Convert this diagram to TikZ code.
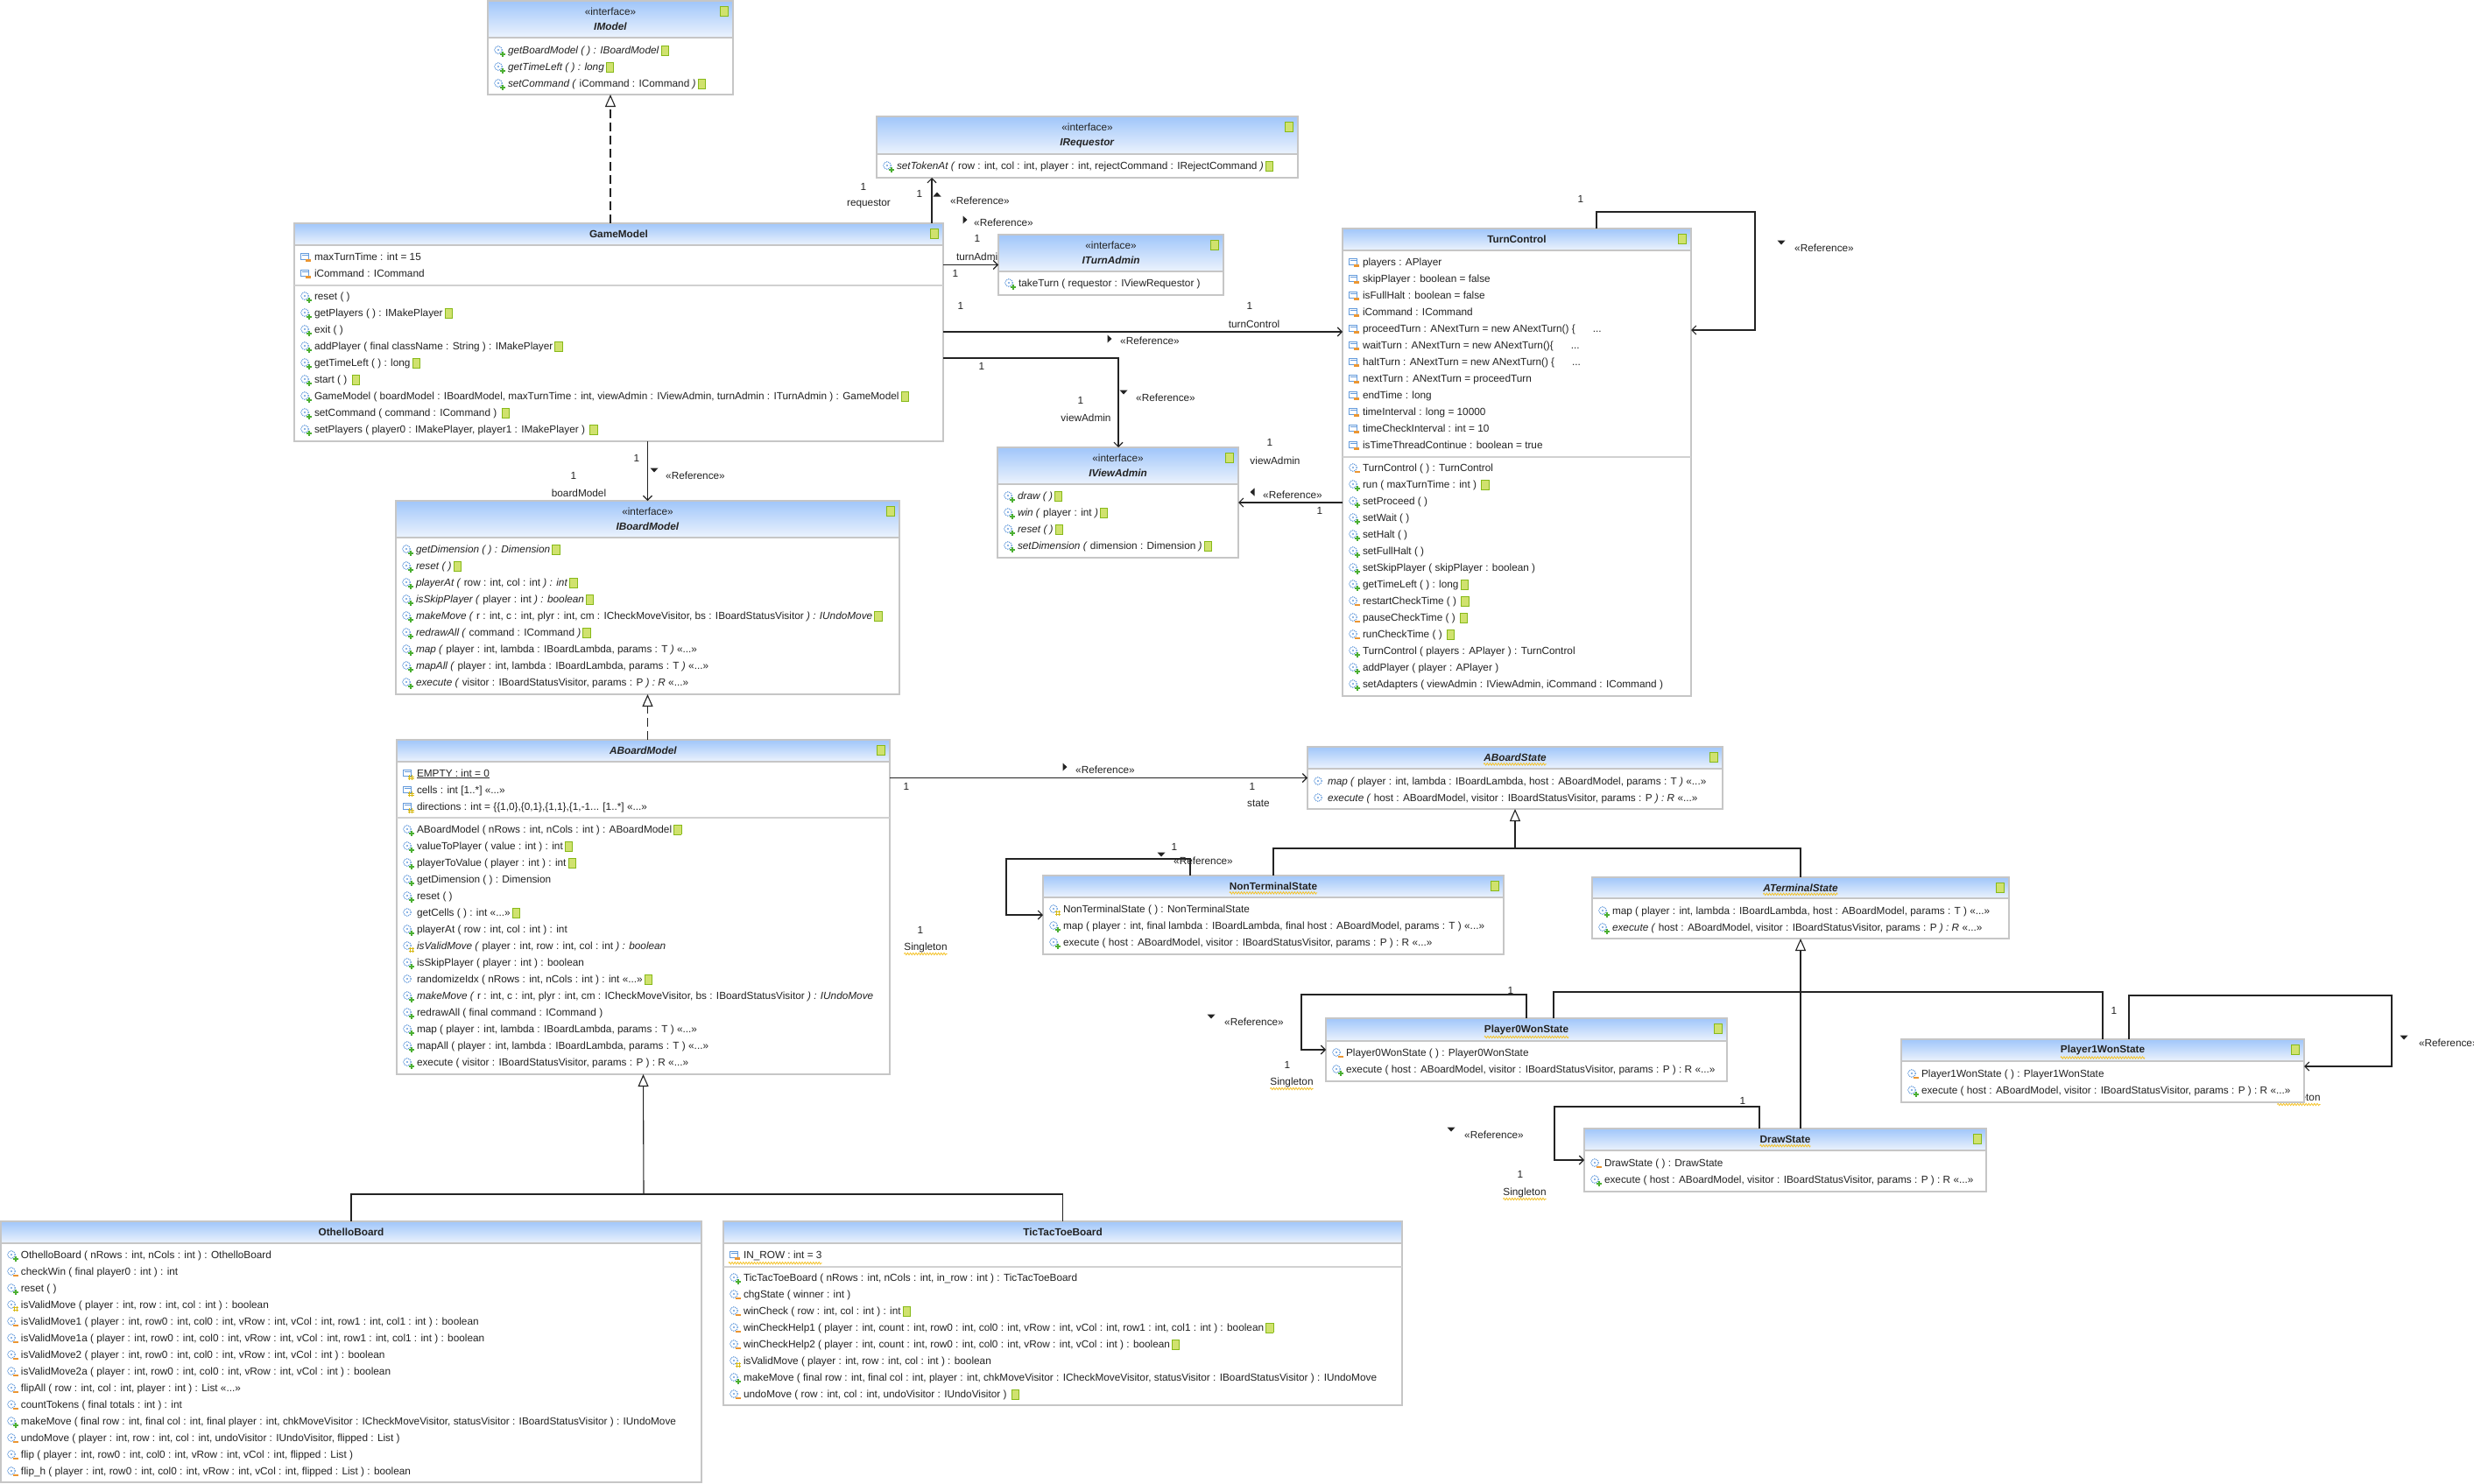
\documentclass[tikz,border=0pt]{standalone}
\usepackage{fontspec}
\setmainfont{Liberation Sans}
\usetikzlibrary{arrows.meta,decorations.pathmorphing,positioning}

\definecolor{hdtop}{RGB}{160,198,250}
\definecolor{hdbot}{RGB}{236,243,253}
\definecolor{frame}{RGB}{198,198,198}
\definecolor{opblue}{RGB}{100,155,220}
\definecolor{pubgreen}{RGB}{75,175,50}
\definecolor{privorange}{RGB}{235,150,50}
\definecolor{protyellow}{RGB}{215,185,20}
\definecolor{docfill}{RGB}{208,226,110}
\definecolor{docedge}{RGB}{135,185,25}
\definecolor{squig}{RGB}{245,195,40}
\definecolor{ink}{RGB}{35,35,35}

% icons in front of the members
\newcommand\icbox{\useasboundingbox (-6pt,-8pt) rectangle (10pt,5pt);}
\newcommand\gear{\draw[opblue,densely dotted,line width=1.1pt] (0,0) circle (4.3pt);\fill[opblue] (0,0) circle (1.2pt);}
\newcommand\opub{\tikz[baseline=-4pt]{\icbox\gear\draw[pubgreen,line width=1.6pt] (4.8pt,-1.8pt) -- (4.8pt,-7.8pt) (1.8pt,-4.8pt) -- (7.8pt,-4.8pt);}\kern1pt}
\newcommand\opriv{\tikz[baseline=-4pt]{\icbox\gear\fill[privorange] (1.5pt,-3.6pt) rectangle (8pt,-6.2pt);}\kern1pt}
\newcommand\oprot{\tikz[baseline=-4pt]{\icbox\gear\draw[protyellow,line width=.8pt] (3.3pt,-1.8pt) -- (3.3pt,-7.8pt) (6.1pt,-1.8pt) -- (6.1pt,-7.8pt) (1.5pt,-3.8pt) -- (8pt,-3.8pt) (1.5pt,-5.9pt) -- (8pt,-5.9pt);}\kern1pt}
\newcommand\opkg{\tikz[baseline=-4pt]{\icbox\gear}\kern1pt}
\newcommand\fpriv{\tikz[baseline=-4pt]{\icbox\draw[opblue,line width=.9pt] (-5pt,4pt) rectangle (4pt,-3.5pt) (-3pt,1.5pt) -- (4pt,1.5pt);\fill[privorange] (0.5pt,-3pt) rectangle (7pt,-6pt);}\kern1pt}
\newcommand\fprot{\tikz[baseline=-4pt]{\icbox\draw[opblue,line width=.9pt] (-5pt,4pt) rectangle (4pt,-3.5pt) (-3pt,1.5pt) -- (4pt,1.5pt);\draw[protyellow,line width=.8pt] (2.5pt,-2pt) -- (2.5pt,-8pt) (5.3pt,-2pt) -- (5.3pt,-8pt) (0.5pt,-4pt) -- (7.5pt,-4pt) (0.5pt,-6.2pt) -- (7.5pt,-6.2pt);}\kern1pt}
\newcommand\docbox{{\setlength\fboxsep{0pt}\setlength\fboxrule{0.9pt}\fcolorbox{docedge}{docfill}{\rule[-1.5pt]{0pt}{10pt}\hspace{7.5pt}}}}
\newcommand\docic{\kern2pt\docbox}

\tikzset{pics/tri/.style={code={\fill[ink] (-2.5pt,4.5pt) -- (2.5pt,0pt) -- (-2.5pt,-4.5pt) -- cycle;}}}

\begin{document}
\begin{tikzpicture}[x=1pt,y=-1pt]
    \tikzstyle{every node}=[inner sep=0pt, outer sep=0pt, text=ink, font=\fontsize{11.8}{19}\selectfont]
    \tikzstyle{box}=[draw=frame, line width=2.4pt, fill=white, anchor=north west]
    \tikzstyle{head}=[box, top color=hdtop, bottom color=hdbot, align=center]
    \tikzstyle{rows}=[anchor=north west]
    \tikzstyle{sepl}=[frame!80, line width=1.3pt]
    \tikzstyle{conn}=[ink, line width=1.1pt]
    \tikzstyle{assoc}=[conn, -{Straight Barb[length=5pt,width=10pt]}]
    \tikzstyle{gen}=[conn, -{Triangle[open,length=14pt,width=12pt,fill=white]}]
    \tikzstyle{real}=[gen, dash pattern=on 10pt off 5pt]
    \tikzstyle{squiggle}=[squig, line width=.8pt, decorate, decoration={zigzag, amplitude=1.2pt, segment length=3.2pt}]

    \fill[white] (0,0) rectangle (2825,1695);
    \useasboundingbox (0,0) rectangle (2825,1695);

    % labels partly hidden behind the boxes
    \node[anchor=west] (ta-r) at (1092,293) {turnAdmin};
    \node (p1-s) at (2625,1254) {Singleton};
    \draw[squiggle] ([yshift=-2pt]p1-s.south west) -- ([yshift=-2pt]p1-s.south east);

    % IModel
    \node[box, minimum width=280, minimum height=107] (im) at (557,1) {};
    \node[head, minimum width=280, minimum height=42] (im-h) at (557,1) {«interface»\\[-2pt]\textbf{\textit{IModel}}};
    \node (im-d) at ([xshift=-10pt,yshift=-12pt]im.north east) {\docbox};
    \node[rows] (im-m) at (563,47.7) {\begin{tabular}{@{}l@{}}
        \opub\textit{getBoardModel ( ) : IBoardModel}\docic\\
        \opub\textit{getTimeLeft ( ) : long}\docic\\
        \opub\textit{setCommand (} iCommand : ICommand \textit{)}\docic
    \end{tabular}};

    % IRequestor
    \node[box, minimum width=481, minimum height=70] (rq) at (1001,133) {};
    \node[head, minimum width=481, minimum height=43] (rq-h) at (1001,133) {«interface»\\[-2pt]\textbf{\textit{IRequestor}}};
    \node (rq-d) at ([xshift=-10pt,yshift=-12pt]rq.north east) {\docbox};
    \node[rows] (rq-m) at (1007,179.7) {\begin{tabular}{@{}l@{}}
        \opub\textit{setTokenAt (} row : int, col : int, player : int, rejectCommand : IRejectCommand \textit{)}\docic
    \end{tabular}};

    % GameModel
    \node[box, minimum width=741, minimum height=249] (gm) at (336,255) {};
    \node[head, minimum width=741, minimum height=25] (gm-h) at (336,255) {\textbf{GameModel}};
    \node (gm-d) at ([xshift=-10pt,yshift=-12pt]gm.north east) {\docbox};
    \draw[sepl] (gm.west |- 0,326) -- (gm.east |- 0,326);
    \node[rows] (gm-a) at (342,283.7) {\begin{tabular}{@{}l@{}}
        \fpriv maxTurnTime : int = 15\\
        \fpriv iCommand : ICommand
    \end{tabular}};
    \node[rows] (gm-m) at (342,328.7) {\begin{tabular}{@{}l@{}}
        \opub reset ( )\\
        \opub getPlayers ( ) :  IMakePlayer\docic\\
        \opub exit ( )\\
        \opub addPlayer ( final className : String ) :  IMakePlayer\docic\\
        \opub getTimeLeft ( ) :  long\docic\\
        \opub start ( ) \docic\\
        \opub GameModel ( boardModel : IBoardModel, maxTurnTime : int, viewAdmin : IViewAdmin, turnAdmin : ITurnAdmin ) :  GameModel\docic\\
        \opub setCommand ( command : ICommand ) \docic\\
        \opub setPlayers ( player0 : IMakePlayer, player1 : IMakePlayer ) \docic
    \end{tabular}};

    % ITurnAdmin
    \node[box, minimum width=257, minimum height=69] (ta) at (1140,268) {};
    \node[head, minimum width=257, minimum height=42] (ta-h) at (1140,268) {«interface»\\[-2pt]\textbf{\textit{ITurnAdmin}}};
    \node (ta-d) at ([xshift=-10pt,yshift=-12pt]ta.north east) {\docbox};
    \node[rows] (ta-m) at (1146,313.7) {\begin{tabular}{@{}l@{}}
        \opub takeTurn ( requestor : IViewRequestor )
    \end{tabular}};

    % IViewAdmin
    \node[box, minimum width=275, minimum height=126] (va) at (1139,511) {};
    \node[head, minimum width=275, minimum height=42] (va-h) at (1139,511) {«interface»\\[-2pt]\textbf{\textit{IViewAdmin}}};
    \node (va-d) at ([xshift=-10pt,yshift=-12pt]va.north east) {\docbox};
    \node[rows] (va-m) at (1145,556.7) {\begin{tabular}{@{}l@{}}
        \opub\textit{draw ( )}\docic\\
        \opub\textit{win (} player : int \textit{)}\docic\\
        \opub\textit{reset ( )}\docic\\
        \opub\textit{setDimension (} dimension : Dimension \textit{)}\docic
    \end{tabular}};

    % TurnControl
    \node[box, minimum width=398, minimum height=534] (tc) at (1533,261) {};
    \node[head, minimum width=398, minimum height=25] (tc-h) at (1533,261) {\textbf{TurnControl}};
    \node (tc-d) at ([xshift=-10pt,yshift=-12pt]tc.north east) {\docbox};
    \draw[sepl] (tc.west |- 0,522) -- (tc.east |- 0,522);
    \node[rows] (tc-a) at (1539,289.7) {\begin{tabular}{@{}l@{}}
        \fpriv players : APlayer\\
        \fpriv skipPlayer : boolean = false\\
        \fpriv isFullHalt : boolean = false\\
        \fpriv iCommand : ICommand\\
        \fpriv proceedTurn : ANextTurn = new ANextTurn() \{\hspace{20pt}...\\
        \fpriv waitTurn : ANextTurn = new ANextTurn()\{\hspace{20pt}...\\
        \fpriv haltTurn : ANextTurn = new ANextTurn() \{\hspace{20pt}...\\
        \fpriv nextTurn : ANextTurn = proceedTurn\\
        \fpriv endTime : long\\
        \fpriv timeInterval : long = 10000\\
        \fpriv timeCheckInterval : int = 10\\
        \fpriv isTimeThreadContinue : boolean = true
    \end{tabular}};
    \node[rows] (tc-m) at (1539,524.7) {\begin{tabular}{@{}l@{}}
        \opriv TurnControl ( ) :  TurnControl\\
        \opub run ( maxTurnTime : int ) \docic\\
        \opub setProceed ( )\\
        \opub setWait ( )\\
        \opub setHalt ( )\\
        \opub setFullHalt ( )\\
        \opub setSkipPlayer ( skipPlayer : boolean )\\
        \opub getTimeLeft ( ) :  long\docic\\
        \opriv restartCheckTime ( ) \docic\\
        \opriv pauseCheckTime ( ) \docic\\
        \opriv runCheckTime ( ) \docic\\
        \opub TurnControl ( players : APlayer ) :  TurnControl\\
        \opub addPlayer ( player : APlayer )\\
        \opub setAdapters ( viewAdmin : IViewAdmin, iCommand : ICommand )
    \end{tabular}};

    % IBoardModel
    \node[box, minimum width=575, minimum height=221] (ib) at (452,572) {};
    \node[head, minimum width=575, minimum height=42] (ib-h) at (452,572) {«interface»\\[-2pt]\textbf{\textit{IBoardModel}}};
    \node (ib-d) at ([xshift=-10pt,yshift=-12pt]ib.north east) {\docbox};
    \node[rows] (ib-m) at (458,617.7) {\begin{tabular}{@{}l@{}}
        \opub\textit{getDimension ( ) : Dimension}\docic\\
        \opub\textit{reset ( )}\docic\\
        \opub\textit{playerAt (} row : int, col : int \textit{) : int}\docic\\
        \opub\textit{isSkipPlayer (} player : int \textit{) : boolean}\docic\\
        \opub\textit{makeMove (} r : int, c : int, plyr : int, cm : ICheckMoveVisitor, bs : IBoardStatusVisitor \textit{) : IUndoMove}\docic\\
        \opub\textit{redrawAll (} command : ICommand \textit{)}\docic\\
        \opub\textit{map (} player : int, lambda : IBoardLambda, params : T \textit{)} «...»\\
        \opub\textit{mapAll (} player : int, lambda : IBoardLambda, params : T \textit{)} «...»\\
        \opub\textit{execute (} visitor : IBoardStatusVisitor, params : P \textit{) : R} «...»
    \end{tabular}};

    % ABoardModel
    \node[box, minimum width=563, minimum height=382] (ab) at (453,845) {};
    \node[head, minimum width=563, minimum height=25] (ab-h) at (453,845) {\textbf{\textit{ABoardModel}}};
    \node (ab-d) at ([xshift=-10pt,yshift=-12pt]ab.north east) {\docbox};
    \draw[sepl] (ab.west |- 0,934) -- (ab.east |- 0,934);
    \node[rows] (ab-a) at (459,873.7) {\begin{tabular}{@{}l@{}}
        \fprot\underline{EMPTY : int = 0}\\
        \fprot cells : int [1..*] «...»\\
        \fprot directions : int = \{\{1,0\},\{0,1\},\{1,1\},\{1,-1... [1..*] «...»
    \end{tabular}};
    \node[rows] (ab-m) at (459,937.7) {\begin{tabular}{@{}l@{}}
        \opub ABoardModel ( nRows : int, nCols : int ) :  ABoardModel\docic\\
        \opub valueToPlayer ( value : int ) :  int\docic\\
        \opub playerToValue ( player : int ) :  int\docic\\
        \opub getDimension ( ) :  Dimension\\
        \opub reset ( )\\
        \opkg getCells ( ) :  int «...»\docic\\
        \opub playerAt ( row : int, col : int ) :  int\\
        \oprot\textit{isValidMove (} player : int, row : int, col : int \textit{) : boolean}\\
        \opub isSkipPlayer ( player : int ) :  boolean\\
        \opkg randomizeIdx ( nRows : int, nCols : int ) :  int «...»\docic\\
        \opub\textit{makeMove (} r : int, c : int, plyr : int, cm : ICheckMoveVisitor, bs : IBoardStatusVisitor \textit{) : IUndoMove}\\
        \opub redrawAll ( final command : ICommand )\\
        \opub map ( player : int, lambda : IBoardLambda, params : T )  «...»\\
        \opub mapAll ( player : int, lambda : IBoardLambda, params : T )  «...»\\
        \opub execute ( visitor : IBoardStatusVisitor, params : P ) :  R «...»
    \end{tabular}};

    % ABoardState
    \node[box, minimum width=474, minimum height=71] (as) at (1493,853) {};
    \node[head, minimum width=474, minimum height=25] (as-h) at (1493,853) {};
    \node (as-t) at (as-h) {\textbf{\textit{ABoardState}}};
    \draw[squiggle] ([yshift=-3pt]as-t.south west) -- ([yshift=-3pt]as-t.south east);
    \node (as-d) at ([xshift=-10pt,yshift=-12pt]as.north east) {\docbox};
    \node[rows] (as-m) at (1499,882.7) {\begin{tabular}{@{}l@{}}
        \opkg\textit{map (} player : int, lambda : IBoardLambda, host : ABoardModel, params : T \textit{)} «...»\\
        \opkg\textit{execute (} host : ABoardModel, visitor : IBoardStatusVisitor, params : P \textit{) : R} «...»
    \end{tabular}};

    % NonTerminalState
    \node[box, minimum width=526, minimum height=90] (nt) at (1191,1000) {};
    \node[head, minimum width=526, minimum height=25] (nt-h) at (1191,1000) {};
    \node (nt-t) at (nt-h) {\textbf{NonTerminalState}};
    \draw[squiggle] ([yshift=-3pt]nt-t.south west) -- ([yshift=-3pt]nt-t.south east);
    \node (nt-d) at ([xshift=-10pt,yshift=-12pt]nt.north east) {\docbox};
    \node[rows] (nt-m) at (1197,1028.7) {\begin{tabular}{@{}l@{}}
        \oprot NonTerminalState ( ) :  NonTerminalState\\
        \opub map ( player : int, final lambda : IBoardLambda, final host : ABoardModel, params : T ) «...»\\
        \opub execute ( host : ABoardModel, visitor : IBoardStatusVisitor, params : P ) :  R «...»
    \end{tabular}};

    % ATerminalState
    \node[box, minimum width=476, minimum height=70] (at) at (1818,1002) {};
    \node[head, minimum width=476, minimum height=24] (at-h) at (1818,1002) {};
    \node (at-t) at (at-h) {\textbf{\textit{ATerminalState}}};
    \draw[squiggle] ([yshift=-3pt]at-t.south west) -- ([yshift=-3pt]at-t.south east);
    \node (at-d) at ([xshift=-10pt,yshift=-12pt]at.north east) {\docbox};
    \node[rows] (at-m) at (1824,1030.7) {\begin{tabular}{@{}l@{}}
        \opub map ( player : int, lambda : IBoardLambda, host : ABoardModel, params : T ) «...»\\
        \opub\textit{execute (} host : ABoardModel, visitor : IBoardStatusVisitor, params : P \textit{) : R} «...»
    \end{tabular}};

    % Player0WonState
    \node[box, minimum width=458, minimum height=72] (p0) at (1514,1163) {};
    \node[head, minimum width=458, minimum height=26] (p0-h) at (1514,1163) {};
    \node (p0-t) at (p0-h) {\textbf{Player0WonState}};
    \draw[squiggle] ([yshift=-3pt]p0-t.south west) -- ([yshift=-3pt]p0-t.south east);
    \node (p0-d) at ([xshift=-10pt,yshift=-12pt]p0.north east) {\docbox};
    \node[rows] (p0-m) at (1520,1192.7) {\begin{tabular}{@{}l@{}}
        \opriv Player0WonState ( ) :  Player0WonState\\
        \opub execute ( host : ABoardModel, visitor : IBoardStatusVisitor, params : P ) :  R «...»
    \end{tabular}};

    % Player1WonState
    \node[box, minimum width=460, minimum height=72] (p1) at (2171,1187) {};
    \node[head, minimum width=460, minimum height=25] (p1-h) at (2171,1187) {};
    \node (p1-t) at (p1-h) {\textbf{Player1WonState}};
    \draw[squiggle] ([yshift=-3pt]p1-t.south west) -- ([yshift=-3pt]p1-t.south east);
    \node (p1-d) at ([xshift=-10pt,yshift=-12pt]p1.north east) {\docbox};
    \node[rows] (p1-m) at (2177,1216.7) {\begin{tabular}{@{}l@{}}
        \opriv Player1WonState ( ) :  Player1WonState\\
        \opub execute ( host : ABoardModel, visitor : IBoardStatusVisitor, params : P ) :  R «...»
    \end{tabular}};

    % DrawState
    \node[box, minimum width=459, minimum height=72] (dr) at (1809,1289) {};
    \node[head, minimum width=459, minimum height=25] (dr-h) at (1809,1289) {};
    \node (dr-t) at (dr-h) {\textbf{DrawState}};
    \draw[squiggle] ([yshift=-3pt]dr-t.south west) -- ([yshift=-3pt]dr-t.south east);
    \node (dr-d) at ([xshift=-10pt,yshift=-12pt]dr.north east) {\docbox};
    \node[rows] (dr-m) at (1815,1318.7) {\begin{tabular}{@{}l@{}}
        \opriv DrawState ( ) :  DrawState\\
        \opub execute ( host : ABoardModel, visitor : IBoardStatusVisitor, params : P ) :  R «...»
    \end{tabular}};

    % OthelloBoard
    \node[box, minimum width=800, minimum height=298] (ob) at (1,1395) {};
    \node[head, minimum width=800, minimum height=25] (ob-h) at (1,1395) {\textbf{OthelloBoard}};
    \node[rows] (ob-m) at (7,1423.7) {\begin{tabular}{@{}l@{}}
        \opub OthelloBoard ( nRows : int, nCols : int ) :  OthelloBoard\\
        \opriv checkWin ( final player0 : int ) :  int\\
        \opub reset ( )\\
        \oprot isValidMove ( player : int, row : int, col : int ) :  boolean\\
        \opriv isValidMove1 ( player : int, row0 : int, col0 : int, vRow : int, vCol : int, row1 : int, col1 : int ) :  boolean\\
        \opriv isValidMove1a ( player : int, row0 : int, col0 : int, vRow : int, vCol : int, row1 : int, col1 : int ) :  boolean\\
        \opriv isValidMove2 ( player : int, row0 : int, col0 : int, vRow : int, vCol : int ) :  boolean\\
        \opriv isValidMove2a ( player : int, row0 : int, col0 : int, vRow : int, vCol : int ) :  boolean\\
        \opriv flipAll ( row : int, col : int, player : int ) :  List «...»\\
        \opriv countTokens ( final totals : int ) :  int\\
        \opub makeMove ( final row : int, final col : int, final player : int, chkMoveVisitor : ICheckMoveVisitor, statusVisitor : IBoardStatusVisitor ) :  IUndoMove\\
        \opriv undoMove ( player : int, row : int, col : int, undoVisitor : IUndoVisitor, flipped : List )\\
        \opriv flip ( player : int, row0 : int, col0 : int, vRow : int, vCol : int, flipped : List )\\
        \opriv flip\_h ( player : int, row0 : int, col0 : int, vRow : int, vCol : int, flipped : List ) :  boolean
    \end{tabular}};

    % TicTacToeBoard
    \node[box, minimum width=775, minimum height=210] (tt) at (826,1395) {};
    \node[head, minimum width=775, minimum height=25] (tt-h) at (826,1395) {\textbf{TicTacToeBoard}};
    \draw[sepl] (tt.west |- 0,1447) -- (tt.east |- 0,1447);
    \node[rows] (tt-a) at (832,1423.7) {\begin{tabular}{@{}l@{}}
        \fpriv IN\_ROW : int = 3
    \end{tabular}};
    \draw[squiggle] (tt-a.south west) -- (tt-a.south east);
    \node[rows] (tt-m) at (832,1449.7) {\begin{tabular}{@{}l@{}}
        \opub TicTacToeBoard ( nRows : int, nCols : int, in\_row : int ) :  TicTacToeBoard\\
        \opriv chgState ( winner : int )\\
        \opriv winCheck ( row : int, col : int ) :  int\docic\\
        \opriv winCheckHelp1 ( player : int, count : int, row0 : int, col0 : int, vRow : int, vCol : int, row1 : int, col1 : int ) :  boolean\docic\\
        \opriv winCheckHelp2 ( player : int, count : int, row0 : int, col0 : int, vRow : int, vCol : int ) :  boolean\docic\\
        \oprot isValidMove ( player : int, row : int, col : int ) :  boolean\\
        \opub makeMove ( final row : int, final col : int, player : int, chkMoveVisitor : ICheckMoveVisitor, statusVisitor : IBoardStatusVisitor ) : IUndoMove\\
        \opriv undoMove ( row : int, col : int, undoVisitor : IUndoVisitor ) \docic
    \end{tabular}};

    % connectors
    \draw[real] (gm.north -| im.south) -- (im.south);
    \draw[assoc] ([xshift=-13pt]gm.north east) -- ([xshift=-177.5pt]rq.south);
    \draw[assoc] (gm.east |- ta.west) -- (ta.west);
    \draw[assoc] ([yshift=-124pt]gm.north east) -- ([yshift=-118pt]tc.north west);
    \draw[assoc] ([yshift=-154pt]gm.north east) -| ([xshift=138pt]va.north west);
    \draw[assoc] ([yshift=-313pt]tc.north west) -- ([yshift=-63pt]va.north east);
    \draw[assoc] ([xshift=290pt]tc.north west) -- ++(0,19pt) -| ([xshift=73pt,yshift=-116pt]tc.north east) -- ([yshift=-116pt]tc.north east);
    \draw[assoc] (gm.south -| ib.north) -- (ib.north);
    \draw[real] (ab.north -| ib.south) -- (ib.south);
    \draw[assoc] (ab.east |- as.west) -- (as.west);

    \coordinate (sbar) at (1730,969);
    \draw[gen] (sbar) -- (as.south);
    \draw[conn] (nt.north) |- (sbar) -| (at.north);
    \draw[assoc] ([xshift=168pt]nt.north west) -- ++(0,19pt) -| ([xshift=-42pt]nt.west) -- (nt.west);

    \coordinate (tbar) at (2056,1133);
    \draw[gen] (dr.north -| at.south) -- (at.south);
    \draw[conn] ([xshift=260pt]p0.north west) |- (tbar) -| (p1.north);
    \draw[assoc] ([xshift=229pt]p0.north west) -- ++(0,27pt) -| ([xshift=-28pt]p0.west) -- (p0.west);
    \draw[assoc] ([xshift=260pt]p1.north west) -- ++(0,50pt) -| ([xshift=100pt,yshift=-31pt]p1.north east) -- ([yshift=-31pt]p1.north east);
    \draw[assoc] ([xshift=200pt]dr.north west) -- ++(0,25pt) -| ([xshift=-34pt]dr.west) -- (dr.west);

    \coordinate (bbar) at (735,1364);
    \draw[gen] (bbar) -- (ab.south);
    \draw[conn] (ob.north) |- (bbar) -| (tt.north);

    % labels on the connectors
    \node (q1) at (986,213) {1};
    \node (q2) at (992,233) {requestor};
    \node (q3) at (1050,221) {1};
    \pic[rotate=90] at (1070,222) {tri};
    \node (q4) at (1119,229) {«Reference»};

    \node (t1) at (1116,272) {1};
    \node (t2) at (1091,312) {1};
    \pic at (1102,251) {tri};
    \node (t3) at (1146,254) {«Reference»};

    \node (c1) at (1097,349) {1};
    \node (c2) at (1427,349) {1};
    \node (c3) at (1432,370) {turnControl};
    \pic at (1267,387) {tri};
    \node (c4) at (1313,389) {«Reference»};

    \node (v1) at (1121,418) {1};
    \node (v2) at (1234,457) {1};
    \node (v3) at (1240,477) {viewAdmin};
    \pic[rotate=-90] at (1283,448) {tri};
    \node (v4) at (1331,454) {«Reference»};

    \node (w1) at (1450,505) {1};
    \node (w2) at (1456,526) {viewAdmin};
    \pic[rotate=180] at (1430,562) {tri};
    \node (w3) at (1476,565) {«Reference»};
    \node (w4) at (1507,583) {1};

    \node (s1) at (1805,227) {1};
    \pic[rotate=-90] at (2034,277) {tri};
    \node (s2) at (2083,283) {«Reference»};

    \node (b1) at (727,523) {1};
    \node (b2) at (655,543) {1};
    \node (b3) at (661,563) {boardModel};
    \pic[rotate=-90] at (747,537) {tri};
    \node (b4) at (794,543) {«Reference»};

    \node (k1) at (1035,898) {1};
    \node (k2) at (1430,898) {1};
    \node (k3) at (1437,918) {state};
    \pic at (1216,876) {tri};
    \node (k4) at (1262,879) {«Reference»};

    \node (n1) at (1341,967) {1};
    \pic[rotate=-90] at (1326,976) {tri};
    \node (n2) at (1374,983) {«Reference»};
    \node (n3) at (1051,1062) {1};
    \node (n4) at (1057,1082) {Singleton};
    \draw[squiggle] ([yshift=-2pt]n4.south west) -- ([yshift=-2pt]n4.south east);

    \node (z1) at (1725,1131) {1};
    \pic[rotate=-90] at (1383,1161) {tri};
    \node (z2) at (1432,1167) {«Reference»};
    \node (z3) at (1470,1216) {1};
    \node (z4) at (1475,1236) {Singleton};
    \draw[squiggle] ([yshift=-2pt]z4.south west) -- ([yshift=-2pt]z4.south east);

    \node (o1) at (2414,1154) {1};
    \pic[rotate=-90] at (2745,1185) {tri};
    \node[anchor=west] (o2) at (2762,1191) {«Reference»};

    \node (d1) at (1990,1257) {1};
    \pic[rotate=-90] at (1657,1290) {tri};
    \node (d2) at (1706,1296) {«Reference»};
    \node (d3) at (1736,1341) {1};
    \node (d4) at (1741,1362) {Singleton};
    \draw[squiggle] ([yshift=-2pt]d4.south west) -- ([yshift=-2pt]d4.south east);
\end{tikzpicture}
\end{document}
